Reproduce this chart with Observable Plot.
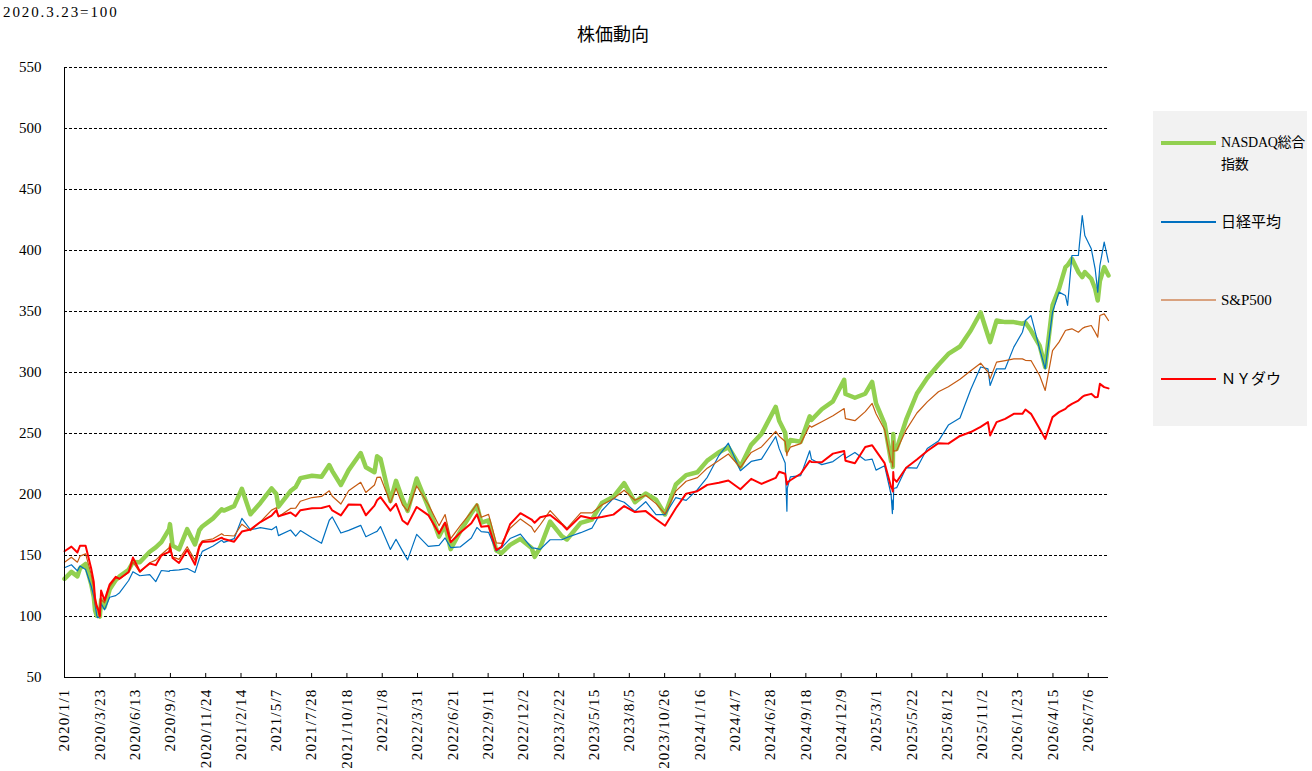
<!DOCTYPE html>
<html>
<head>
<meta charset="utf-8">
<script src="https://cdn.jsdelivr.net/npm/d3@7"></script>
<script src="https://cdn.jsdelivr.net/npm/@observablehq/plot@0.6"></script>
<style>
body{margin:0;background:#fff;font-family:"Liberation Serif","Noto Sans CJK JP",serif;color:#000;}
#wrap{position:relative;width:1312px;height:771px;overflow:hidden;background:#fff;}
#chart{position:absolute;left:0;top:0;}
#note{position:absolute;left:3px;top:3px;font-size:15px;line-height:18px;letter-spacing:1.9px;white-space:nowrap;}
#title{position:absolute;left:513px;width:200px;text-align:center;top:23px;font-size:18px;line-height:20px;font-family:"Noto Sans CJK JP",sans-serif;}
#legend{position:absolute;left:1153px;top:111px;width:154px;height:315px;background:#f2f2f2;}
.sw{position:absolute;left:8px;width:55px;}
.lb{position:absolute;left:68px;font-size:15px;line-height:22px;white-space:nowrap;font-family:"Liberation Serif","Noto Sans CJK JP",serif;}
g[aria-label="x-axis tick label"] text{letter-spacing:1.2px;}
</style>
</head>
<body>
<div id="wrap">
  <div id="chart"></div>
  <div id="note">2020.3.23=100</div>
  <div id="title">株価動向</div>
  <div id="legend"></div>
</div>
<script>
// ---- data (index, 2020/3/23 = 100) ----
const dates = [
  "2020-01-01","2020-01-17","2020-01-31","2020-02-06","2020-02-19","2020-03-03","2020-03-09","2020-03-12","2020-03-16","2020-03-18","2020-03-23","2020-03-26","2020-04-03","2020-04-15","2020-04-29","2020-05-08","2020-05-29","2020-06-08","2020-06-24","2020-07-17","2020-07-31","2020-08-13","2020-08-31","2020-09-02","2020-09-08","2020-09-23","2020-10-12","2020-10-30","2020-11-09","2020-11-16","2020-12-11","2020-12-31",
  "2021-01-05","2021-01-29","2021-02-16","2021-03-08","2021-03-31","2021-04-26","2021-05-07","2021-05-12","2021-06-09","2021-06-21","2021-07-02","2021-07-29","2021-08-20","2021-09-07","2021-09-14","2021-10-04","2021-10-22","2021-11-19","2021-12-01","2021-12-21","2021-12-27",
  "2022-01-04","2022-01-27","2022-02-09","2022-02-24","2022-03-08","2022-03-29","2022-04-25","2022-05-20","2022-06-03","2022-06-16","2022-07-08","2022-08-03","2022-08-16","2022-08-26","2022-09-12","2022-09-30","2022-10-12","2022-11-01","2022-11-25","2022-12-21","2022-12-28",
  "2023-01-10","2023-02-02","2023-03-01","2023-03-13","2023-04-14","2023-05-10","2023-06-02","2023-06-29","2023-07-24","2023-08-18","2023-09-12","2023-10-06","2023-10-27","2023-11-21","2023-12-15",
  "2024-01-10","2024-02-02","2024-02-29","2024-03-22","2024-04-19","2024-05-14","2024-06-07","2024-07-10","2024-07-18","2024-08-01","2024-08-05","2024-08-06","2024-08-13","2024-09-06","2024-09-27","2024-10-01","2024-10-25","2024-11-20","2024-12-16","2024-12-19",
  "2025-01-10","2025-02-03","2025-02-19","2025-02-28","2025-03-20","2025-04-04","2025-04-07","2025-04-08","2025-04-09","2025-04-10","2025-04-17","2025-05-09","2025-06-03","2025-06-27","2025-07-23","2025-08-15","2025-09-11","2025-10-06","2025-10-29","2025-11-15","2025-11-20","2025-12-05","2025-12-25",
  "2026-01-14","2026-02-03","2026-02-10","2026-02-23","2026-03-15","2026-03-28","2026-04-14","2026-04-29","2026-05-14","2026-05-19","2026-05-29","2026-06-13","2026-06-22","2026-06-28","2026-07-13","2026-07-22","2026-07-28","2026-08-02","2026-08-12","2026-08-22"
];
const nasdaq = [
  130.8,136.6,132.9,139.5,143.1,126.6,115.9,105.0,100.6,101.9,100,113.5,107.5,122.3,129.9,132.9,138.3,144.7,144.4,153.1,156.6,161.0,171.6,175.7,158.1,155.0,171.6,159.0,170.7,173.8,180.4,187.9,
  186.8,190.5,204.7,183.8,193.1,205.0,200.4,190.0,202.8,206.1,213.4,215.4,214.5,224.1,219.2,207.8,220.0,234.0,222.3,218.3,231.3,
  229.3,194.6,211.2,196.4,186.5,213.1,189.6,165.5,175.1,155.2,169.6,184.6,191.0,177.0,178.8,154.1,151.9,158.7,163.6,156.1,148.9,
  156.6,177.8,165.9,163.1,176.7,179.4,193.0,198.1,209.3,193.7,200.8,195.8,183.6,208.2,215.9,
  218.2,227.8,234.6,238.8,222.7,240.7,249.7,271.8,260.5,250.6,236.1,238.5,244.6,243.3,264.1,261.1,269.9,276.4,294.0,282.4,
  279.3,282.6,292.3,274.7,257.9,227.2,227.4,222.5,249.6,238.9,237.4,261.3,282.8,295.5,306.4,315.2,321.3,334.4,349.2,330.3,324.9,342.6,341.3,
  341.3,340.0,341.0,334.4,322.1,304.4,355.0,368.6,386.4,388.0,393.2,382.3,378.2,382.3,376.8,368.6,359.0,375.0,386.4,379.5
];
const nikkei = [
  140.0,142.4,137.4,141.4,138.6,124.8,116.6,109.9,100.7,99.0,100,110.6,105.5,115.8,117.1,119.5,129.5,136.7,133.4,134.4,128.6,137.7,137.0,137.7,137.8,138.2,139.3,136.0,147.1,153.4,157.8,162.5,
  160.8,163.8,180.4,171.1,172.8,171.2,173.8,166.3,170.9,165.9,170.4,164.5,160.0,178.9,181.6,168.4,170.6,174.7,165.4,168.9,169.8,
  173.7,155.0,163.3,153.8,146.4,167.3,157.5,158.3,164.4,156.5,157.0,164.3,173.0,169.6,169.0,153.6,156.3,163.9,167.5,156.2,156.0,
  155.0,162.9,162.9,164.8,168.7,172.4,186.7,196.8,193.6,186.2,194.1,183.5,183.5,197.5,195.2,
  204.0,214.1,231.9,242.1,219.5,227.1,229.0,247.5,237.6,225.8,186.3,205.3,214.5,215.5,235.8,228.9,224.5,227.0,233.7,229.8,
  234.5,228.1,229.0,220.0,223.5,200.0,184.4,195.5,187.8,204.9,205.6,222.0,221.7,237.7,243.8,256.9,262.7,286.0,304.5,303.0,289.4,303.0,303.0,
  320.8,333.0,342.6,346.7,319.4,303.0,349.5,365.9,363.1,355.0,395.9,395.9,428.7,412.3,401.4,385.0,365.9,387.7,406.8,390.5
];
const sp500 = [
  144.4,148.6,144.5,149.5,151.3,134.5,122.7,110.7,106.6,107.2,100,113.8,111.2,124.4,131.4,130.9,136.1,144.5,136.3,144.1,146.2,150.8,156.4,160.0,148.9,146.8,157.2,146.2,158.7,162.1,163.7,167.9,
  166.6,166.0,175.7,170.4,177.6,187.2,189.2,181.8,188.6,188.8,194.5,197.5,198.4,203.0,198.6,192.2,203.1,210.0,201.7,207.8,214.1,
  214.2,193.3,205.0,191.6,186.4,207.0,192.0,174.4,183.6,163.8,174.3,185.7,192.4,181.3,183.7,160.3,159.9,172.3,180.0,173.3,169.1,
  175.2,186.8,176.6,172.3,184.9,184.9,191.4,196.5,203.5,195.3,199.4,192.5,184.0,202.8,210.9,
  213.8,221.6,227.8,233.2,222.0,234.5,239.0,251.8,247.8,243.4,231.8,234.2,238.8,241.7,256.5,255.2,259.6,264.5,270.4,262.2,
  260.5,267.9,274.6,266.2,253.0,226.8,226.2,222.7,243.9,235.5,236.0,253.0,266.8,275.9,284.2,288.3,294.4,301.5,307.6,300.3,294.8,308.5,309.8,
  311.2,311.2,310.0,309.8,297.6,285.3,318.0,324.9,334.4,335.0,335.8,333.0,336.0,337.2,338.5,333.0,329.0,346.7,348.1,342.6
];
const dow = [
  153.5,157.3,152.5,158.0,157.9,139.4,128.3,114.5,108.6,107.0,100,121.3,113.2,126.4,132.5,130.9,136.5,148.3,136.9,143.5,142.1,150.0,152.9,156.5,147.9,143.9,154.7,142.5,156.8,161.1,161.6,164.6,
  163.5,161.3,169.6,171.3,177.4,182.7,187.1,182.2,185.3,182.2,187.1,188.7,188.9,190.7,186.9,182.9,191.9,191.5,183.0,190.9,195.3,
  197.9,186.8,192.4,178.7,175.5,189.8,183.1,168.1,177.0,160.8,168.6,176.5,183.7,173.6,174.2,154.5,157.1,175.6,184.7,179.5,176.8,
  181.3,183.2,175.7,171.2,182.3,180.4,181.6,183.5,190.5,185.6,186.4,179.7,174.4,188.7,200.7,
  202.7,207.9,209.7,211.5,204.3,212.8,208.7,213.6,218.7,217.0,208.2,209.8,211.7,217.0,227.6,226.7,226.5,233.5,235.7,227.7,
  225.6,238.9,240.4,235.8,225.7,206.1,204.2,202.5,218.4,213.0,210.5,221.9,228.7,235.7,242.1,241.7,248.0,251.2,255.5,259.3,248.4,259.3,262.0,
  266.1,266.1,269.7,266.1,253.8,245.6,263.4,267.5,270.2,272.0,274.3,277.0,280.0,281.2,282.5,279.8,280.0,290.7,288.0,287.0
];
const seriesNames = ["NASDAQ総合指数","日経平均","S&P500","ＮＹダウ"];
const seriesColors = ["#92D050","#0070C0","#C55A11","#FF0000"];
const seriesWidths = [4.5,1.2,1.2,2];
const yTicks = [50,100,150,200,250,300,350,400,450,500,550];
const xTickLabels = ["2020/1/1","2020/3/23","2020/6/13","2020/9/3","2020/11/24","2021/2/14","2021/5/7","2021/7/28","2021/10/18","2022/1/8","2022/3/31","2022/6/21","2022/9/11","2022/12/2","2023/2/22","2023/5/15","2023/8/5","2023/10/26","2024/1/16","2024/4/7","2024/6/28","2024/9/18","2024/12/9","2025/3/1","2025/5/22","2025/8/12","2025/11/2","2026/1/23","2026/4/15","2026/7/6"];
const xDomain = ["2020-01-01","2026-08-22"];

// ---- build ----
const parseSlash = s => { const [y,m,d] = s.split("/").map(Number); return new Date(Date.UTC(y, m-1, d)); };
const xTicks = xTickLabels.map(parseSlash);
const fmt = d => `${d.getUTCFullYear()}/${d.getUTCMonth()+1}/${d.getUTCDate()}`;
const rows = dates.map((d,i) => ({date: new Date(d + "T00:00:00Z"), v0: nasdaq[i], v1: nikkei[i], v2: sp500[i], v3: dow[i]}));
const x0 = new Date(xDomain[0] + "T00:00:00Z"), x1 = new Date(xDomain[1] + "T00:00:00Z");

const plot = Plot.plot({
  width: 1312, height: 771,
  marginLeft: 64, marginRight: 204, marginTop: 67, marginBottom: 94,
  style: {fontFamily: '"Liberation Serif", serif', fontSize: "15px", color: "#000", background: "transparent", overflow: "visible"},
  x: {type: "utc", domain: [x0, x1]},
  y: {domain: [yTicks[0], yTicks[yTicks.length-1]]},
  marks: [
    Plot.gridY(yTicks.slice(1), {stroke: "#000", strokeOpacity: 1, strokeDasharray: "3,2", strokeWidth: 1}),
    Plot.line(rows, {x: "date", y: "v0", stroke: seriesColors[0], strokeWidth: seriesWidths[0], strokeLinejoin: "round"}),
    Plot.line(rows, {x: "date", y: "v1", stroke: seriesColors[1], strokeWidth: seriesWidths[1], strokeLinejoin: "round"}),
    Plot.line(rows, {x: "date", y: "v2", stroke: seriesColors[2], strokeWidth: seriesWidths[2], strokeLinejoin: "round"}),
    Plot.line(rows, {x: "date", y: "v3", stroke: seriesColors[3], strokeWidth: seriesWidths[3], strokeLinejoin: "round"}),
    Plot.ruleX([x0], {stroke: "#000", strokeWidth: 1}),
    Plot.ruleY([yTicks[0]], {stroke: "#000", strokeWidth: 1}),
    Plot.ruleX(xTicks, {y1: yTicks[0], y2: yTicks[0] + 3.3, stroke: "#000", strokeWidth: 1}),
    Plot.axisY({ticks: yTicks, tickSize: 0, tickPadding: 23, label: null, tickFormat: d => String(d)}),
    Plot.axisX({ticks: xTicks, tickSize: 0, tickPadding: 11, tickRotate: -90, label: null, tickFormat: fmt})
  ]
});
document.getElementById("chart").appendChild(plot);

// ---- legend ----
const legend = document.getElementById("legend");
const legendLineY = [32, 111, 189, 268];
const legendLabels = ["NASDAQ総合<br>指数", seriesNames[1], seriesNames[2], seriesNames[3]];
const legendWidths = [4, 1.5, 2, 2];
legendLabels.forEach((lab, i) => {
  const sw = document.createElement("div");
  sw.className = "sw";
  sw.style.top = (legendLineY[i] - legendWidths[i]/2) + "px";
  sw.style.height = legendWidths[i] + "px";
  sw.style.background = i === 2 ? "#D9A27F" : seriesColors[i];
  legend.appendChild(sw);
  const lb = document.createElement("div");
  lb.className = "lb";
  lb.style.top = (legendLineY[i] - 11) + "px";
  if (i === 0) { lb.style.fontSize = "14px"; lb.style.letterSpacing = "-0.3px"; }
  lb.innerHTML = lab;
  legend.appendChild(lb);
});
</script>
</body>
</html>
